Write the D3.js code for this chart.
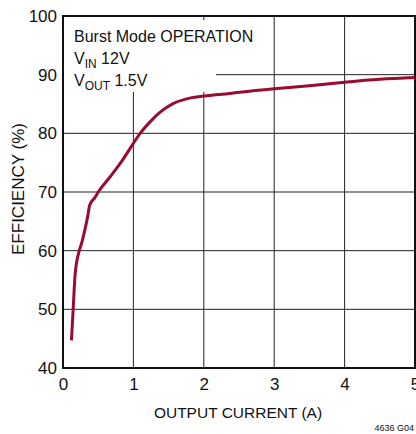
<!DOCTYPE html>
<html>
<head>
<meta charset="utf-8">
<script src="https://cdn.jsdelivr.net/npm/d3@7"></script>
<style>
  body { margin: 0; background: #fff; }
  text { font-family: "Liberation Sans Narrow", "Arial Narrow", "Liberation Sans", sans-serif; fill: #111; }
</style>
</head>
<body>
<svg id="chart" width="416" height="434"></svg>
<script>
const current = [0.12, 0.146, 0.17, 0.22, 0.265, 0.31, 0.35, 0.38, 0.45, 0.5, 0.67, 0.86, 1.0, 1.09, 1.24, 1.38, 1.57, 1.8, 2.04, 2.37, 2.51, 3.0, 3.5, 4.0, 4.5, 5.0];
const efficiency = [44.7, 50.4, 55.6, 59.5, 61.3, 63.5, 65.8, 67.8, 69.0, 70.0, 72.6, 75.7, 78.3, 79.9, 82.0, 83.6, 85.1, 86.0, 86.4, 86.8, 87.0, 87.6, 88.1, 88.7, 89.2, 89.5];
const xTicks = [0, 1, 2, 3, 4, 5];
const yTicks = [40, 50, 60, 70, 80, 90, 100];

const plotLeft = 63, plotRight = 415, plotTop = 16, plotBottom = 368;

const svg = d3.select("#chart");

const x = d3.scaleLinear().domain([0, 5]).range([plotLeft, plotRight]);
const y = d3.scaleLinear().domain([40, 100]).range([plotBottom, plotTop]);

// grid (the area behind the legend text stays clear)
const grid = svg.append("g").attr("stroke", "#222").attr("stroke-width", 1);
grid.selectAll(".vg")
  .data(xTicks.slice(1, -1))
  .enter().append("line")
  .attr("x1", d => x(d)).attr("x2", d => x(d))
  .attr("y1", d => x(d) < 216 ? 92 : plotTop).attr("y2", plotBottom);
grid.selectAll(".hg")
  .data(yTicks.slice(1, -1))
  .enter().append("line")
  .attr("x1", d => y(d) < 92 ? 216 : plotLeft).attr("x2", plotRight)
  .attr("y1", d => y(d)).attr("y2", d => y(d));
grid.append("line").attr("x1", x(2)).attr("x2", x(2)).attr("y1", plotTop).attr("y2", plotTop + 4);

// frame
svg.append("rect")
  .attr("x", plotLeft).attr("y", plotTop)
  .attr("width", plotRight - plotLeft).attr("height", plotBottom - plotTop)
  .attr("fill", "none").attr("stroke", "#111").attr("stroke-width", 2);

// curve
const pts = current.map((c, i) => [c, efficiency[i]]);
svg.append("path")
  .datum(pts)
  .attr("fill", "none")
  .attr("stroke", "#9a0b30")
  .attr("stroke-width", 3)
  .attr("stroke-linejoin", "round")
  .attr("d", d3.line().x(d => x(d[0])).y(d => y(d[1])).curve(d3.curveMonotoneX));

// tick labels
const xAxis = d3.axisBottom(x).tickValues(xTicks).tickFormat(d3.format("d")).tickSize(0).tickPadding(10);
svg.append("g")
  .attr("transform", `translate(0, ${plotBottom})`)
  .call(xAxis)
  .call(g => g.select(".domain").remove())
  .call(g => g.attr("font-size", null).attr("font-family", null))
  .selectAll("text").attr("font-size", 17);

const yAxis = d3.axisLeft(y).tickValues(yTicks).tickSize(0).tickPadding(6);
svg.append("g")
  .attr("transform", `translate(${plotLeft}, 0)`)
  .call(yAxis)
  .call(g => g.select(".domain").remove())
  .call(g => g.attr("font-size", null).attr("font-family", null))
  .selectAll("text").attr("font-size", 17);

svg.selectAll(".tick text").attr("fill", "#111");

svg.append("text")
  .attr("x", (plotLeft + plotRight) / 2 - 1).attr("y", 418)
  .attr("text-anchor", "middle").attr("font-size", 15.5)
  .text("OUTPUT CURRENT (A)");

svg.append("text")
  .attr("transform", `translate(24, 189) rotate(-90)`)
  .attr("text-anchor", "middle").attr("font-size", 16)
  .attr("textLength", 132).attr("lengthAdjust", "spacingAndGlyphs")
  .text("EFFICIENCY (%)");

// legend text
const lg = svg.append("g").attr("font-size", 16);
lg.append("text").attr("x", 74).attr("y", 42).text("Burst Mode OPERATION");
const t2 = lg.append("text").attr("x", 74).attr("y", 64);
t2.append("tspan").text("V");
t2.append("tspan").attr("dy", 4).attr("font-size", 12).text("IN");
t2.append("tspan").attr("dy", -4).text(" 12V");
const t3 = lg.append("text").attr("x", 74).attr("y", 86);
t3.append("tspan").text("V");
t3.append("tspan").attr("dy", 4).attr("font-size", 12).text("OUT");
t3.append("tspan").attr("dy", -4).text(" 1.5V");

svg.append("text")
  .attr("x", 414).attr("y", 431)
  .attr("text-anchor", "end").attr("font-size", 9)
  .text("4636 G04");
</script>
</body>
</html>
